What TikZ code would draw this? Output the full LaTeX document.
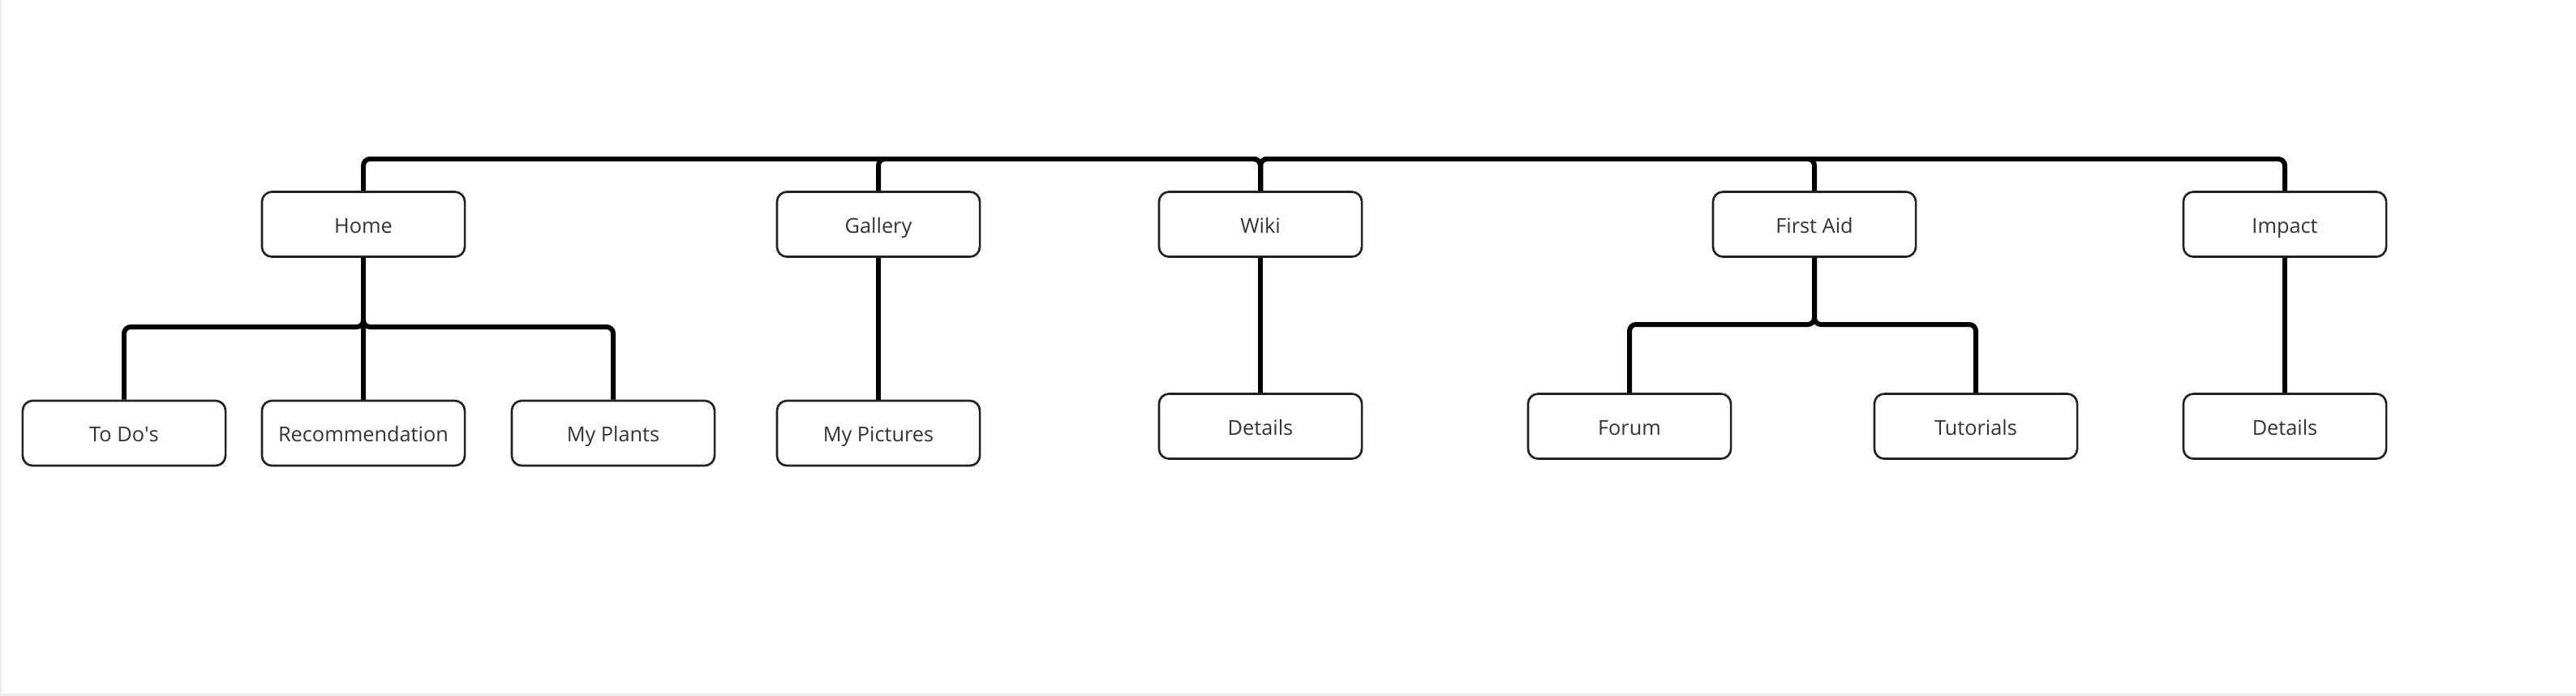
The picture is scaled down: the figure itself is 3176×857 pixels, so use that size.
\documentclass[tikz,border=0pt]{standalone}
\usepackage{fontspec}
\setmainfont{Open Sans}
\usepackage{xcolor}
\usetikzlibrary{positioning}
\definecolor{boxline}{RGB}{34,34,34}
\definecolor{labeltext}{RGB}{51,51,51}
\definecolor{edgegrey}{RGB}{236,236,236}

\begin{document}
\begin{tikzpicture}[
    x=0.01cm, y=-0.01cm,
    page/.style={rectangle, draw=boxline, line width=0.75pt, rounded corners=3.5pt, fill=white,
                 minimum width=2.5cm, minimum height=0.8cm, align=center, inner sep=2pt,
                 text height=1.6ex, text depth=0.45ex,
                 font=\fontsize{7.2}{9}\selectfont, text=labeltext},
    link/.style={line width=1.7pt, black, rounded corners=2.3pt}
]
    \fill[white] (0,0) rectangle (3176,857);
    \useasboundingbox (0,0) rectangle (3176,857);
    \draw[edgegrey, line width=1pt] (0,0) -- (0,857) -- (3176,857);

    \node[page] (home)     at ( 448, 276.5) {Home};
    \node[page] (gallery)  at (1083, 276.5) {Gallery};
    \node[page] (wiki)     at (1554, 276.5) {Wiki};
    \node[page] (firstaid) at (2237, 276.5) {First Aid};
    \node[page] (impact)   at (2817, 276.5) {Impact};

    \node[page] (todos)      at ( 153, 534) {To Do\textquotesingle s};
    \node[page] (recommend)  at ( 448, 534) {Recommendation};
    \node[page] (myplants)   at ( 756, 534) {My Plants};
    \node[page] (mypictures) at (1083, 534) {My Pictures};

    \node[page] (wikidetails)   at (1554, 525.5) {Details};
    \node[page] (forum)         at (2009, 525.5) {Forum};
    \node[page] (tutorials)     at (2436, 525.5) {Tutorials};
    \node[page] (impactdetails) at (2817, 525.5) {Details};

    \coordinate (topbus)   at (1554, 196);
    \coordinate (homebus)  at ( 448, 403);
    \coordinate (aidbus)   at (2237, 400);

    \draw[link] (wiki.north) -- (topbus) -| (home.north);
    \draw[link] (wiki.north) -- (topbus) -| (gallery.north);
    \draw[link] (wiki.north) -- (topbus) -| (firstaid.north);
    \draw[link] (wiki.north) -- (topbus) -| (impact.north);

    \draw[link] (home.south) -- (homebus) -| (todos.north);
    \draw[link] (home.south) -- (recommend.north);
    \draw[link] (home.south) -- (homebus) -| (myplants.north);

    \draw[link] (gallery.south) -- (mypictures.north);
    \draw[link] (wiki.south)    -- (wikidetails.north);

    \draw[link] (firstaid.south) -- (aidbus) -| (forum.north);
    \draw[link] (firstaid.south) -- (aidbus) -| (tutorials.north);

    \draw[link] (impact.south) -- (impactdetails.north);
\end{tikzpicture}
\end{document}
